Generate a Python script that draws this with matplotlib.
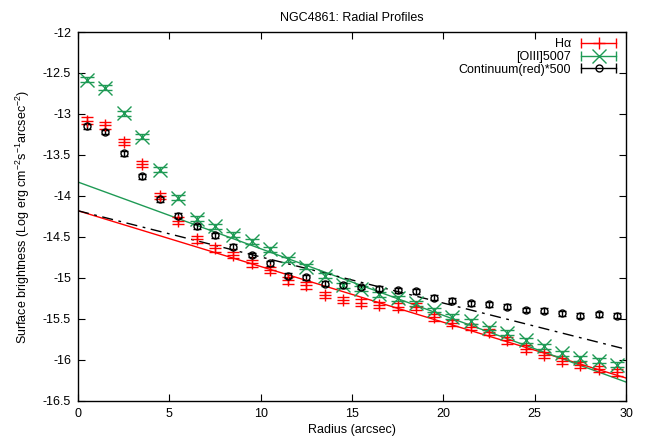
import matplotlib
matplotlib.use('Agg')
from matplotlib import pyplot as plt
from matplotlib.lines import Line2D
from matplotlib.legend_handler import HandlerLine2D
import numpy as np

plt.rcParams['font.family'] = ['Liberation Sans', 'DejaVu Sans']

radius = np.arange(0.5, 30, 1.0)

halpha = [-13.08, -13.14, -13.34, -13.61, -14.00, -14.30, -14.53, -14.64, -14.72, -14.82,
          -14.90, -15.03, -15.09, -15.21, -15.27, -15.30, -15.33, -15.35, -15.35, -15.48,
          -15.55, -15.60, -15.66, -15.76, -15.86, -15.94, -16.01, -16.06, -16.11, -16.15]
oiii = [-12.58, -12.68, -12.99, -13.28, -13.68, -14.02, -14.28, -14.37, -14.47, -14.55,
        -14.65, -14.77, -14.86, -14.97, -15.09, -15.13, -15.20, -15.25, -15.31, -15.39,
        -15.47, -15.53, -15.61, -15.67, -15.76, -15.83, -15.92, -15.98, -16.01, -16.06]
cont = [-13.15, -13.22, -13.48, -13.76, -14.04, -14.24, -14.37, -14.48, -14.62, -14.72,
        -14.82, -14.97, -14.99, -15.07, -15.09, -15.11, -15.13, -15.15, -15.16, -15.24,
        -15.28, -15.31, -15.32, -15.35, -15.39, -15.40, -15.43, -15.46, -15.44, -15.46]
halpha_err = [0.04] * 30
oiii_err = [0.03] * 30
cont_err = [0.03] * 30

# exponential-disc fits (intercept, slope) for Halpha, [OIII], continuum
fit_a = [-14.18, -13.83, -14.18]
fit_b = [-0.0680, -0.0813, -0.0563]

red = '#ff0000'
green = '#1f9a55'
fs = 9

fig = plt.figure(figsize=(6.56, 4.42), dpi=100)
ax = fig.add_axes([0.1189, 0.0928, 0.8354, 0.8348])

xf = np.array([0, 30])
ax.plot(xf, fit_a[0] + fit_b[0] * xf, color=red, lw=1)
ax.plot(xf, fit_a[1] + fit_b[1] * xf, color=green, lw=1)
ax.plot(xf, fit_a[2] + fit_b[2] * xf, color='black', lw=1, ls=(0, (8, 4, 2, 4)))

ax.errorbar(radius, halpha, yerr=halpha_err, fmt='+', color=red, ms=8, mew=1,
            elinewidth=1, capsize=4)
ax.errorbar(radius, oiii, yerr=oiii_err, fmt='x', color=green, ms=10, mew=1,
            elinewidth=1, capsize=5)
ax.errorbar(radius, cont, yerr=cont_err, fmt='o', color='black', mfc='none', ms=5,
            mew=1, elinewidth=1, capsize=3)

ax.set_xlim(0, 30)
ax.set_ylim(-16.5, -12)
ax.set_xticks(np.arange(0, 31, 5))
ax.set_yticks(np.arange(-16.5, -11.9, 0.5))
ax.set_yticklabels(['%g' % v for v in np.arange(-16.5, -11.9, 0.5)])
ax.tick_params(direction='in', top=True, right=True, length=5, labelsize=fs, pad=5)
for s in ax.spines.values():
    s.set_linewidth(1)

ax.set_title('NGC4861: Radial Profiles', fontsize=fs, pad=8)
ax.set_xlabel('Radius (arcsec)', fontsize=fs, labelpad=3)
ax.set_ylabel(r'Surface brightness (Log erg cm$^{\mathregular{-2}}$s$^{\mathregular{-1}}$'
              r'arcsec$^{\mathregular{-2}}$)', fontsize=fs, labelpad=8)

handles = []
hmap = {}
for c, m, ms in [(red, '+', 8), (green, 'x', 10), ('black', 'o', 5)]:
    bar = Line2D([], [], color=c, lw=1, marker='|', ms=7)
    hmap[bar] = HandlerLine2D(numpoints=2)
    mk = Line2D([], [], color=c, ls='none', marker=m, ms=ms, mfc='none')
    handles.append((bar, mk))
ax.legend(handles, ['Hα', '[OIII]5007', 'Continuum(red)*500'], handler_map=hmap,
          loc='upper right', markerfirst=False, frameon=False, fontsize=fs,
          handlelength=3.4, handletextpad=0.5, labelspacing=0.05,
          borderaxespad=0.2, borderpad=0.3)

fig.savefig('out.png', dpi=100)
